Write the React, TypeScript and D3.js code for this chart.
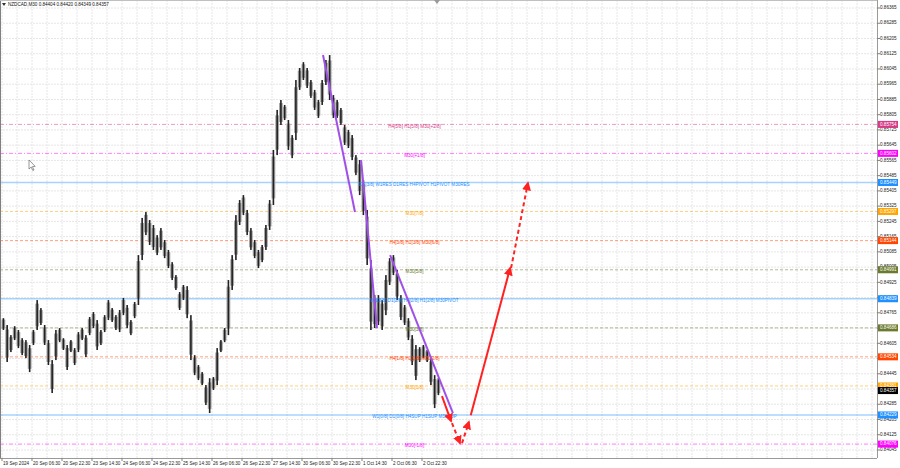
import React from "react";
import * as d3 from "d3";

const W = 900;
const H = 468;
const PLOT_R = 877;
const PLOT_B = 458;

// price axis tick labels
const priceTicks = [
  "0.86365","0.86285","0.86205","0.86125","0.86045","0.85965","0.85885","0.85805",
  "0.85725","0.85645","0.85565","0.85485","0.85405","0.85325","0.85245","0.85165",
  "0.85085","0.85005","0.84925","0.84845","0.84765","0.84685","0.84605","0.84525",
  "0.84445","0.84365","0.84285","0.84205","0.84125","0.84045",
];

// time axis labels (every 32 M30 bars)
const timeLabels = [
  "19 Sep 2024","20 Sep 06:30","20 Sep 22:30","23 Sep 14:30","24 Sep 06:30",
  "24 Sep 22:30","25 Sep 14:30","26 Sep 06:30","26 Sep 22:30","27 Sep 14:30",
  "30 Sep 06:30","30 Sep 22:30","1 Oct 14:30","2 Oct 06:30","2 Oct 22:30",
];
const BARS_PER_LABEL = 32;
const BARS_PER_SAMPLE = 4;

// price range per 4-bar sample (high / low)
const highs = [
  0.84737,0.84701,0.84648,0.84695,0.84675,0.84632,0.84622,0.84596,0.84675,0.84832,
  0.84790,0.84701,0.84622,0.84517,0.84675,0.84685,0.84632,0.84596,0.84622,0.84580,
  0.84664,0.84685,0.84648,0.84743,0.84769,0.84727,0.84675,0.84753,0.84832,0.84790,
  0.84753,0.84780,0.84843,0.84806,0.84727,0.84822,0.85068,0.85263,0.85294,0.85252,
  0.85226,0.85173,0.85210,0.85147,0.85095,0.85031,0.84963,0.84874,0.84911,0.84905,
  0.84753,0.84543,0.84491,0.84454,0.84386,0.84422,0.84428,0.84580,0.84622,0.84685,
  0.84937,0.85068,0.85278,0.85357,0.85383,0.85305,0.85210,0.85147,0.85095,0.85121,
  0.85226,0.85357,0.85620,0.85830,0.85882,0.85856,0.85777,0.85698,0.85987,0.86050,
  0.86081,0.86050,0.85987,0.85935,0.85882,0.85987,0.86092,0.86118,0.85908,0.85882,
  0.85840,0.85751,0.85725,0.85698,0.85593,0.85567,0.85462,0.85305,0.85042,0.84858,
  0.84858,0.84832,0.84963,0.85052,0.85068,0.84990,0.84858,0.84806,0.84737,0.84648,
  0.84596,0.84585,0.84596,0.84570,0.84527,0.84438,0.84422,
];
const lows = [
  0.84675,0.84507,0.84559,0.84622,0.84580,0.84543,0.84527,0.84454,0.84596,0.84675,
  0.84701,0.84596,0.84491,0.84344,0.84517,0.84611,0.84570,0.84465,0.84559,0.84491,
  0.84559,0.84622,0.84533,0.84648,0.84685,0.84570,0.84596,0.84664,0.84727,0.84717,
  0.84675,0.84664,0.84753,0.84685,0.84648,0.84737,0.84806,0.85042,0.85173,0.85121,
  0.85095,0.85068,0.85095,0.85052,0.85000,0.84937,0.84885,0.84780,0.84832,0.84737,
  0.84517,0.84438,0.84412,0.84386,0.84281,0.84239,0.84360,0.84386,0.84559,0.84611,
  0.84648,0.84885,0.85042,0.85226,0.85278,0.85173,0.85095,0.85052,0.85000,0.85031,
  0.85095,0.85200,0.85331,0.85593,0.85751,0.85777,0.85620,0.85577,0.85672,0.85935,
  0.85987,0.85945,0.85893,0.85830,0.85788,0.85856,0.85961,0.85882,0.85788,0.85788,
  0.85751,0.85646,0.85630,0.85567,0.85488,0.85383,0.85278,0.85016,0.84675,0.84685,
  0.84701,0.84675,0.84753,0.84911,0.84963,0.84832,0.84727,0.84701,0.84622,0.84491,
  0.84412,0.84507,0.84527,0.84507,0.84386,0.84265,0.84333,
];

// Murrey-style levels
const levelPrices = [0.85754,0.85602,0.85449,0.85297,0.85144,0.84991,0.84839,0.84686,0.84534,0.84381,0.84229,0.84076];
const levelNames = [
  "H4[5/8] H1[5/8] M30[+2/8]",
  "M30[+1/8]",
  "D1[3/8] W1RES D1RES H4PIVOT H1PIVOT M30RES",
  "M30[7/8]",
  "H4[3/8] H1[3/8] M30[6/8]",
  "M30[5/8]",
  "W1[2/8] D1[2/8] H4[2/8] H1[2/8] M30PIVOT",
  "M30[3/8]",
  "H4[1/8] H1[1/8] M30[2/8]",
  "M30[1/8]",
  "W1[0/8] D1[0/8] H4SUP H1SUP M30SUP",
  "M30[-1/8]",
];
const levelColors = ["#d63a86","#ff00ff","#1e90ff","#ffa500","#ff4500","#6b7a2e","#1e90ff","#6b7a2e","#ff4500","#ffa500","#1e90ff","#ff00ff"];
const levelSolid = [false,false,true,false,false,false,true,false,false,false,true,false];
const LEVEL_TEXT_BAR = 440;

const bidPrice = 0.84357;
const title = "NZDCAD,M30  0.84404 0.84420 0.84349 0.84357";

// trend lines (bar index, price)
const purpleLines = [
  { b1: 342.4, p1: 0.86118, b2: 376.5, p2: 0.85294 },
  { b1: 383, p1: 0.85567, b2: 400, p2: 0.84685 },
  { b1: 414, p1: 0.85068, b2: 481, p2: 0.84239 },
];
// forecast arrows
const arrows = [
  { b1: 469.3, p1: 0.84328, b2: 479, p2: 0.84197, dashed: false },
  { b1: 480, p1: 0.84186, b2: 488.5, p2: 0.84081, dashed: true },
  { b1: 490.7, p1: 0.84081, b2: 498, p2: 0.84192, dashed: true },
  { b1: 500, p1: 0.84228, b2: 542, p2: 0.85000, dashed: false },
  { b1: 543, p1: 0.85000, b2: 561, p2: 0.85446, dashed: true },
];

const FONT = "'Liberation Sans', Arial, sans-serif";

export default function App() {
  const y = d3.scaleLinear().domain([0.84045, 0.86365]).range([450, 8]);
  const x = d3.scaleLinear().domain([0, BARS_PER_LABEL]).range([2, 32]);
  const gridY = priceTicks.map((t) => y(+t));
  const gridX = d3.range(0, 60).map((i) => x(i * BARS_PER_LABEL / 2)).filter((v) => v < PLOT_R);
  const fs = 4.6;

  return (
    <svg width={W} height={H} style={{ position: "absolute", left: 0, top: 0, background: "#fff" }} fontFamily={FONT}>
      <defs>
        <marker id="ah" viewBox="0 0 10 10" refX="8" refY="5" markerWidth="9" markerHeight="9" markerUnits="userSpaceOnUse" orient="auto">
          <path d="M0,0 L10,5 L0,10 z" fill="#ff2222" />
        </marker>
      </defs>
      <rect x={0} y={0} width={W} height={H} fill="#fff" />
      {/* grid */}
      {gridY.map((gy, i) => (
        <line key={"gy" + i} x1={0} x2={PLOT_R} y1={gy} y2={gy} stroke="#e6e6e6" strokeWidth={1} strokeDasharray="2,1" />
      ))}
      {gridX.map((gx, i) => (
        <line key={"gx" + i} x1={gx} x2={gx} y1={0} y2={PLOT_B} stroke="#e6e6e6" strokeWidth={1} strokeDasharray="2,1" />
      ))}
      {/* levels */}
      {levelPrices.map((p, i) => (
        <line key={"lv" + i} x1={0} x2={PLOT_R} y1={y(p)} y2={y(p)} stroke={levelColors[i]}
          strokeOpacity={levelSolid[i] ? 0.4 : 0.5} strokeWidth={levelSolid[i] ? 1.5 : 1}
          strokeDasharray={levelSolid[i] ? undefined : (i === 0 || i === 1 || i === 11 ? "4,2,1,2" : "3,2")} />
      ))}
      {/* candles */}
      {highs.map((h, k) => {
        const cx = x(k * BARS_PER_SAMPLE + 1.5);
        const y1 = y(h);
        const y2 = y(lows[k]);
        const hgt = Math.max(1, y2 - y1);
        return (
          <g key={"c" + k}>
            <rect x={cx - 1.9} y={y1 + hgt * 0.12} width={3.8} height={hgt * 0.76} fill="#a8a8a8" />
            <rect x={cx - 0.8} y={y1} width={1.6} height={hgt} fill="#222" />
          </g>
        );
      })}
      {/* level texts */}
      {levelNames.map((n, i) => (
        <text key={"lt" + i} x={x(LEVEL_TEXT_BAR)} y={y(levelPrices[i]) + 2} fontSize={fs} fill={levelColors[i]} textAnchor="middle" dominantBaseline="middle">{n}</text>
      ))}
      {/* purple trend lines */}
      {purpleLines.map((l, i) => (
        <line key={"pl" + i} x1={x(l.b1)} y1={y(l.p1)} x2={x(l.b2)} y2={y(l.p2)} stroke="#a050e8" strokeWidth={2} />
      ))}
      {/* arrows */}
      {arrows.map((a, i) => (
        <line key={"ar" + i} x1={x(a.b1)} y1={y(a.p1)} x2={x(a.b2)} y2={y(a.p2)} stroke="#ff2222" strokeWidth={2}
          strokeDasharray={a.dashed ? "4,3" : undefined} markerEnd="url(#ah)" />
      ))}
      {/* frame */}
      <line x1={0.5} x2={0.5} y1={0} y2={PLOT_B} stroke="#808080" />
      <line x1={0} x2={PLOT_R} y1={0.5} y2={0.5} stroke="#c0c0c0" />
      <line x1={PLOT_R + 0.5} x2={PLOT_R + 0.5} y1={0} y2={PLOT_B} stroke="#9a9a9a" />
      <line x1={0} x2={PLOT_R} y1={PLOT_B + 0.5} y2={PLOT_B + 0.5} stroke="#9a9a9a" />
      {/* price axis */}
      {priceTicks.map((t, i) => (
        <g key={"pt" + i}>
          <line x1={PLOT_R} x2={PLOT_R + 3} y1={y(+t)} y2={y(+t)} stroke="#808080" />
          <text x={880} y={y(+t)} fontSize={fs} fill="#222" dominantBaseline="middle">{t}</text>
        </g>
      ))}
      {levelPrices.map((p, i) => (
        <g key={"pl2" + i}>
          <rect x={878} y={y(p) - 3.5} width={20} height={7} fill={levelColors[i]} />
          <text x={880} y={y(p)} fontSize={fs} fill="#fff" dominantBaseline="middle">{p.toFixed(5)}</text>
        </g>
      ))}
      <rect x={878} y={y(bidPrice) - 3.5} width={20} height={7} fill="#000" />
      <text x={880} y={y(bidPrice)} fontSize={fs} fill="#fff" dominantBaseline="middle">{bidPrice.toFixed(5)}</text>
      {/* time axis */}
      {timeLabels.map((t, i) => (
        <g key={"tl" + i}>
          <line x1={x(i * BARS_PER_LABEL)} x2={x(i * BARS_PER_LABEL)} y1={PLOT_B} y2={PLOT_B + 3} stroke="#808080" />
          <text x={x(i * BARS_PER_LABEL) + 1} y={464} fontSize={fs} fill="#222" dominantBaseline="middle">{t}</text>
        </g>
      ))}
      {/* title */}
      <path d="M2,3 L6,3 L4,6 z" fill="#333" />
      <text x={8} y={4.5} fontSize={fs} fill="#111" dominantBaseline="middle">{title}</text>
      {/* chart shift marker */}
      <path d="M434,0 L440,0 L437,4 z" fill="#9a9a9a" />
      {/* mouse cursor */}
      <path d="M29,160 L29,169 L31.2,167 L32.8,170.5 L34,170 L32.4,166.6 L35.2,166.4 z" fill="#fff" stroke="#555" strokeWidth={0.6} />
    </svg>
  );
}
